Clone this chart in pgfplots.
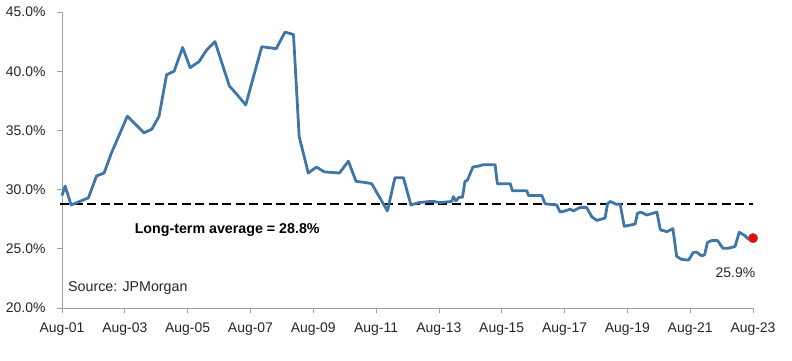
\documentclass[border=0pt]{standalone}
\usepackage{pgfplots}
\pgfplotsset{compat=1.18}
\usepackage{fontspec}
\setmainfont{Liberation Sans}
\definecolor{linec}{RGB}{64,117,168}
\definecolor{axc}{RGB}{160,160,160}
\begin{document}
\begin{tikzpicture}
\begin{axis}[
  scale only axis,
  width=691bp, height=296bp,
  xmin=0, xmax=22, ymin=20, ymax=45,
  axis x line*=bottom, axis y line*=left,
  axis line style={axc, line width=0.8pt},
  xtick={0,2,...,22},
  xticklabels={Aug-01,Aug-03,Aug-05,Aug-07,Aug-09,Aug-11,Aug-13,Aug-15,Aug-17,Aug-19,Aug-21,Aug-23},
  ytick={20,25,...,45},
  yticklabels={20.0\%,25.0\%,30.0\%,35.0\%,40.0\%,45.0\%},
  tick style={axc, line width=0.8pt},
  tick align=outside,
  major tick length=5bp,
  tick label style={font=\fontsize{14}{16}\selectfont, text=black!85},
  xticklabel style={yshift=-6bp},
  yticklabel style={xshift=-8bp},
  clip=false,
]
\addplot[black, line width=2.6pt, dash pattern=on 9bp off 4.5bp] coordinates {(-0.05,28.8) (22,28.8)};
\addplot[linec, line width=2.8pt, line join=round] coordinates {
(0,29.5) (0.1,30.3) (0.29,28.7) (0.84,29.3) (1.1,31.15) (1.34,31.4) (1.56,33.0)
(2.08,36.2) (2.61,34.8) (2.86,35.1) (3.09,36.2) (3.33,39.7) (3.57,40.0) (3.84,42.0)
(4.08,40.3) (4.36,40.8) (4.61,41.8) (4.87,42.5) (5.33,38.75) (5.58,38.0) (5.85,37.15)
(6.36,42.07) (6.82,41.9) (7.1,43.3) (7.37,43.1) (7.55,34.5) (7.84,31.4) (8.1,31.9)
(8.35,31.5) (8.83,31.4) (9.12,32.4) (9.36,30.7) (9.65,30.6) (9.86,30.5) (10.36,28.2)
(10.6,31.0) (10.87,31.0) (11.11,28.7) (11.35,28.9) (11.72,29.0) (11.83,29.0) (12.04,28.9)
(12.41,29.0) (12.46,29.4) (12.54,29.05) (12.64,29.35) (12.75,29.35) (12.83,30.7) (12.91,30.8)
(13.08,31.9) (13.28,32.0) (13.4,32.1) (13.79,32.1) (13.86,30.5) (14.27,30.5) (14.34,29.9)
(14.8,29.9) (14.85,29.5) (15.28,29.5) (15.38,28.8) (15.75,28.7) (15.86,28.1) (16.02,28.2)
(16.18,28.35) (16.28,28.2) (16.5,28.5) (16.7,28.5) (16.87,27.7) (17.03,27.4) (17.29,27.6)
(17.37,28.8) (17.45,29.0) (17.66,28.75) (17.77,28.8) (17.9,26.9) (18.09,27.0) (18.25,27.1)
(18.32,28.0) (18.43,28.1) (18.62,27.85) (18.94,28.1) (19.05,26.6) (19.26,26.45) (19.45,26.7)
(19.57,24.35) (19.73,24.1) (19.95,24.05) (20.1,24.7) (20.21,24.7) (20.37,24.4) (20.46,24.5)
(20.55,25.55) (20.69,25.7) (20.87,25.7) (21.04,25.05) (21.22,25.05) (21.43,25.2) (21.56,26.4)
(21.72,26.15) (21.86,25.8) (22,25.9)
};
\addplot[only marks, mark=*, mark size=4.8bp, mark options={fill=red, draw=linec, line width=0.4pt}] coordinates {(22,25.9)};
\node[font=\fontsize{14.3}{16}\selectfont\bfseries, anchor=center] at (axis cs:5.26,26.55) {Long-term average = 28.8\%};
\node[font=\fontsize{14.3}{16}\selectfont, anchor=west, text=black!85, inner sep=0pt] at (axis cs:0.19,21.7) {Source: JPMorgan};
\node[font=\fontsize{14}{16}\selectfont, anchor=center, text=black!85] at (axis cs:21.44,23.0) {25.9\%};
\end{axis}
\pgfresetboundingbox
\path[use as bounding box] ([shift={(-62bp,-53bp)}]current axis.south west) rectangle ([shift={(39bp,12bp)}]current axis.north east);
\end{tikzpicture}
\end{document}
